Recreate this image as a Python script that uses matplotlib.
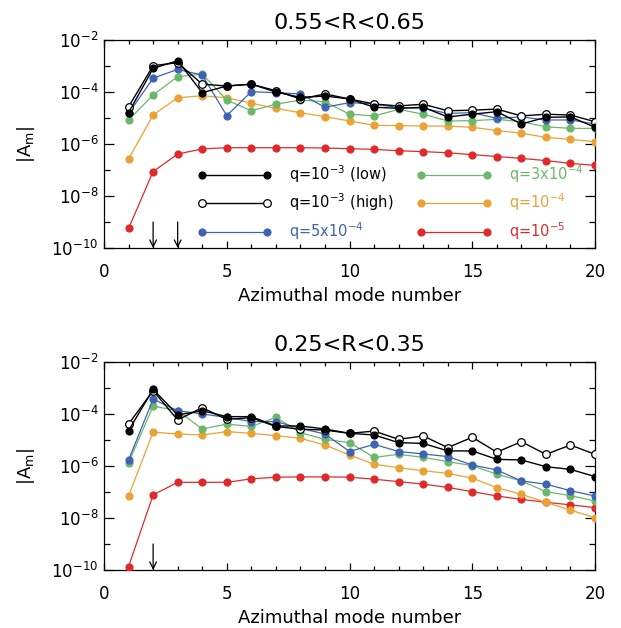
import matplotlib
matplotlib.use("Agg")
import matplotlib.pyplot as plt
import numpy as np
from matplotlib.ticker import FixedLocator, FuncFormatter, MultipleLocator, NullFormatter

plt.rcParams["font.family"] = "DejaVu Sans"
plt.rcParams["mathtext.default"] = "regular"

# azimuthal mode number
m = np.arange(1, 21)

# 0.55 < R < 0.65
top_low = [1.6e-5, 8.1e-4, 1.6e-3, 9.4e-5, 1.7e-4, 2.0e-4, 1.0e-4, 6.2e-5, 7.0e-5, 5.4e-5,
           2.6e-5, 2.35e-5, 2.6e-5, 1.1e-5, 1.4e-5, 1.75e-5, 5.9e-6, 1.06e-5, 1.1e-5, 4.4e-6]
top_high = [2.7e-5, 1.03e-3, 1.34e-3, 2.0e-4, 1.7e-4, 2.0e-4, 1.12e-4, 5.4e-5, 8.4e-5, 5.4e-5,
            3.45e-5, 2.9e-5, 3.4e-5, 1.9e-5, 2.0e-5, 2.2e-5, 1.2e-5, 1.4e-5, 1.3e-5, 7.2e-6]
top_5e4 = [1.5e-5, 3.4e-4, 7.4e-4, 4.5e-4, 1.23e-5, 1.03e-4, 9.4e-5, 8.4e-5, 2.6e-5, 3.9e-5,
           3.45e-5, 2.5e-5, 2.35e-5, 1.5e-5, 1.6e-5, 9.7e-6, 1.1e-5, 8.4e-6, 8.4e-6, 5.9e-6]
top_3e4 = [8.4e-6, 7.7e-5, 3.9e-4, 4.9e-4, 4.9e-5, 1.9e-5, 3.4e-5, 4.9e-5, 4.2e-5, 1.4e-5,
           1.2e-5, 2.15e-5, 1.4e-5, 7.7e-6, 7.9e-6, 8.9e-6, 7.2e-6, 4.6e-6, 4.0e-6, 4.0e-6]
top_1e4 = [2.65e-7, 1.3e-5, 6.0e-5, 7.2e-5, 6.0e-5, 3.7e-5, 2.35e-5, 1.6e-5, 1.12e-5, 7.7e-6,
           5.2e-6, 5.1e-6, 4.9e-6, 4.9e-6, 4.4e-6, 3.3e-6, 2.6e-6, 1.8e-6, 1.5e-6, 1.23e-6]
top_1e5 = [5.7e-10, 8.7e-8, 4.1e-7, 6.5e-7, 7.2e-7, 7.2e-7, 7.2e-7, 7.2e-7, 7.0e-7, 6.6e-7,
           6.2e-7, 5.5e-7, 5.1e-7, 4.6e-7, 3.9e-7, 3.3e-7, 2.8e-7, 2.3e-7, 1.8e-7, 1.5e-7]

# 0.25 < R < 0.35
bot_low = [2.3e-5, 8.9e-4, 9.2e-5, 1.34e-4, 7.9e-5, 7.9e-5, 3.45e-5, 3.45e-5, 2.65e-5, 1.8e-5,
           1.56e-5, 7.9e-6, 7.4e-6, 3.8e-6, 3.8e-6, 1.8e-6, 1.7e-6, 9.4e-7, 7.4e-7, 3.9e-7]
bot_high = [4.1e-5, 7.9e-4, 5.9e-5, 1.75e-4, 6.2e-5, 7.2e-5, 3.3e-5, 2.6e-5, 2.4e-5, 1.8e-5,
            2.2e-5, 1.06e-5, 1.43e-5, 5.1e-6, 1.27e-5, 3.4e-6, 8.6e-6, 2.8e-6, 6.4e-6, 2.8e-6]
bot_5e4 = [1.7e-6, 3.7e-4, 1.34e-4, 1.0e-4, 7.4e-5, 5.1e-5, 5.1e-5, 2.8e-5, 1.7e-5, 3.6e-6,
           6.8e-6, 3.6e-6, 2.9e-6, 2.3e-6, 1.09e-6, 7.0e-7, 2.65e-7, 2.0e-7, 1.12e-7, 7.0e-8]
bot_3e4 = [1.34e-6, 2.0e-4, 1.34e-4, 2.65e-5, 4.1e-5, 3.3e-5, 7.4e-5, 1.9e-5, 1.06e-5, 7.9e-6,
           2.15e-6, 2.8e-6, 2.15e-6, 1.47e-6, 1.03e-6, 4.8e-7, 2.65e-7, 1.03e-7, 7.2e-8, 4.5e-8]
bot_1e4 = [7.0e-8, 2.0e-5, 1.7e-5, 1.56e-5, 2.1e-5, 1.8e-5, 1.47e-5, 1.16e-5, 6.4e-6, 2.65e-6,
           1.16e-6, 8.6e-7, 6.6e-7, 5.2e-7, 3.4e-7, 1.47e-7, 8.1e-8, 4.0e-8, 2.0e-8, 1.03e-8]
bot_1e5 = [1.35e-10, 7.7e-8, 2.35e-7, 2.35e-7, 2.35e-7, 3.2e-7, 3.7e-7, 3.8e-7, 3.8e-7, 3.7e-7,
           3.1e-7, 2.5e-7, 2.0e-7, 1.5e-7, 1.03e-7, 7.0e-8, 5.2e-8, 4.0e-8, 3.2e-8, 2.5e-8]

labels = ["q=10$^{-3}$ (low)", "q=10$^{-3}$ (high)", "q=5x10$^{-4}$",
          "q=3x10$^{-4}$", "q=10$^{-4}$", "q=10$^{-5}$"]
colors = ["black", "black", "#3d63b3", "#6bb86b", "#eba234", "#e02a2a"]
titles = ["0.55<R<0.65", "0.25<R<0.35"]
arrow_m = [[2, 3], [2]]

panels = [
    [top_low, top_high, top_5e4, top_3e4, top_1e4, top_1e5],
    [bot_low, bot_high, bot_5e4, bot_3e4, bot_1e4, bot_1e5],
]

fig = plt.figure(figsize=(6.21, 6.28), dpi=100)
ax_top = fig.add_axes([0.1675, 0.6051, 0.7907, 0.3312])
ax_bot = fig.add_axes([0.1675, 0.0924, 0.7907, 0.3312])


def exp_fmt(v, pos):
    return "10$^{%d}$" % int(round(np.log10(v)))


for k, ax in enumerate([ax_top, ax_bot]):
    series = panels[k]
    for i in range(6):
        face = "white" if i == 1 else colors[i]
        lw = 1.0 if i < 2 else 0.9
        ax.plot(m, series[i], color=colors[i], lw=lw, marker="o",
                ms=5.5 if i == 1 else 5, mfc=face, mec=colors[i], mew=0.9,
                label=labels[i], zorder=3 + (6 - i) * 0.1 if i >= 2 else 4 - i * 0.1)

    ax.set_yscale("log")
    ax.set_xlim(0, 20)
    ax.set_ylim(1e-10, 1e-2)
    ax.xaxis.set_major_locator(MultipleLocator(5))
    ax.xaxis.set_minor_locator(MultipleLocator(1))
    ax.yaxis.set_major_locator(FixedLocator([1e-10, 1e-8, 1e-6, 1e-4, 1e-2]))
    ax.yaxis.set_minor_locator(FixedLocator([1e-9, 1e-7, 1e-5, 1e-3]))
    ax.yaxis.set_major_formatter(FuncFormatter(exp_fmt))
    ax.yaxis.set_minor_formatter(NullFormatter())
    ax.tick_params(which="both", direction="in", top=True, right=True, width=0.9)
    ax.tick_params(axis="x", which="major", length=5, pad=11, labelsize=12)
    ax.tick_params(axis="x", which="minor", length=3)
    ax.tick_params(axis="y", which="major", length=7, pad=4, labelsize=12)
    ax.tick_params(axis="y", which="minor", length=4)
    for sp in ax.spines.values():
        sp.set_linewidth(0.9)

    ax.set_title(titles[k], fontsize=16, pad=8)
    ax.set_xlabel("Azimuthal mode number", fontsize=13, labelpad=4)
    ax.set_ylabel("$|A_m|$", fontsize=13, labelpad=10)

    for xa in arrow_m[k]:
        ax.annotate("", xy=(xa, 0.0), xycoords=("data", "axes fraction"),
                    xytext=(xa, 0.125), textcoords=("data", "axes fraction"),
                    arrowprops=dict(arrowstyle="->", color="black", lw=0.9,
                                    mutation_scale=12, shrinkA=0, shrinkB=0))

leg = ax_top.legend(ncol=2, loc="lower left", bbox_to_anchor=(0.19, 0.03),
                    frameon=False, numpoints=2, handlelength=5.1, handletextpad=1.2,
                    columnspacing=1.6, labelspacing=0.45, fontsize=10.5,
                    borderpad=0, borderaxespad=0)
for txt, c in zip(leg.get_texts(), colors):
    txt.set_color(c)

fig.savefig("out.png", dpi=100)
